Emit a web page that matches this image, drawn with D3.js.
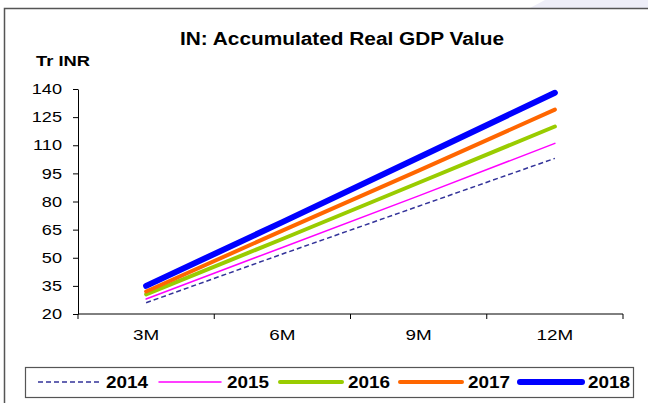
<!DOCTYPE html>
<html>
<head>
<meta charset="utf-8">
<script src="https://cdn.jsdelivr.net/npm/d3@7/dist/d3.min.js"></script>
<style>
  html, body { margin: 0; padding: 0; background: #fff; }
  svg { display: block; font-family: "Liberation Sans", Arial, sans-serif; }
</style>
</head>
<body>
<svg id="chart" width="648" height="403"></svg>
<script>
// Accumulated real GDP by quarter-to-date period, trillion INR
const periods = ["3M", "6M", "9M", "12M"];
const years = ["2014", "2015", "2016", "2017", "2018"];
const v2014 = [26, 52, 77.5, 103];
const v2015 = [28, 55.5, 83, 111];
const v2016 = [30.5, 60, 90, 120];
const v2017 = [32, 64.5, 96.5, 129];
const v2018 = [35, 69, 103.5, 138];
const yTicks = [20, 35, 50, 65, 80, 95, 110, 125, 140];

const seriesValues = [v2014, v2015, v2016, v2017, v2018];
const styles = [
  { color: "#333399", width: 1.5, dash: "5,3" },
  { color: "#ff00ff", width: 1.5, dash: null },
  { color: "#99cc00", width: 4, dash: null },
  { color: "#ff6600", width: 4, dash: null },
  { color: "#0000ff", width: 6, dash: null }
];

// widen glyphs horizontally by a fixed factor
function widen(sel, factor) {
  sel.each(function () {
    const w = this.getComputedTextLength();
    d3.select(this).attr("textLength", w * factor).attr("lengthAdjust", "spacingAndGlyphs");
  });
}

const svg = d3.select("#chart");

// decorative band in the top-right corner
svg.append("path")
  .attr("d", "M545,0 L648,0 L648,8 L530,8 Z")
  .attr("fill", "#eeeef8");

// outer frame (top and left edges)
svg.append("path")
  .attr("d", "M4.5,403 L4.5,8.5 L648,8.5")
  .attr("fill", "none")
  .attr("stroke", "#555")
  .attr("stroke-width", 1.5);

// title
svg.append("text")
  .attr("x", 342).attr("y", 45)
  .attr("text-anchor", "middle")
  .attr("font-size", 18).attr("font-weight", "bold")
  .attr("textLength", 324).attr("lengthAdjust", "spacingAndGlyphs")
  .text("IN: Accumulated Real GDP Value");

svg.append("text")
  .attr("x", 36).attr("y", 66)
  .attr("font-size", 15).attr("font-weight", "bold")
  .attr("textLength", 54).attr("lengthAdjust", "spacingAndGlyphs")
  .text("Tr INR");

const x = d3.scaleBand().domain(periods).range([78, 623]);
const y = d3.scaleLinear().domain([20, 140]).range([314, 89]);

// y axis
const yAxis = svg.append("g")
  .attr("transform", "translate(78,0)")
  .call(d3.axisLeft(y).tickValues(yTicks).tickSize(5).tickSizeOuter(0).tickPadding(11));
yAxis.attr("font-size", null).attr("font-family", null);
yAxis.selectAll("text")
  .attr("font-size", 14.5).attr("fill", "#000")
  .call(widen, 1.25);
yAxis.selectAll("line, path").attr("stroke", "#000");

// x axis with ticks at the band boundaries
const xAxisG = svg.append("g").attr("transform", "translate(0,314)");
xAxisG.append("line")
  .attr("x1", 78).attr("x2", 623)
  .attr("stroke", "#000");
const boundaries = periods.map(p => x(p)).concat([x(periods[periods.length - 1]) + x.bandwidth()]);
xAxisG.selectAll("line.tick")
  .data(boundaries)
  .join("line")
  .attr("class", "tick")
  .attr("x1", d => d).attr("x2", d => d)
  .attr("y1", 0).attr("y2", 5)
  .attr("stroke", "#000");
xAxisG.selectAll("text")
  .data(periods)
  .join("text")
  .attr("x", d => x(d) + x.bandwidth() / 2)
  .attr("y", 26)
  .attr("text-anchor", "middle")
  .attr("font-size", 14.5)
  .text(d => d)
  .call(widen, 1.3);

// series lines
const line = d3.line()
  .x((d, i) => x(periods[i]) + x.bandwidth() / 2)
  .y(d => y(d));

svg.append("g").selectAll("path")
  .data(seriesValues)
  .join("path")
  .attr("d", d => line(d))
  .attr("fill", "none")
  .attr("stroke", (d, i) => styles[i].color)
  .attr("stroke-width", (d, i) => styles[i].width)
  .attr("stroke-dasharray", (d, i) => styles[i].dash)
  .attr("stroke-linecap", (d, i) => styles[i].dash ? "butt" : "round");

// legend
const legend = svg.append("g");
legend.append("rect")
  .attr("x", 25.5).attr("y", 367.5)
  .attr("width", 608).attr("height", 30)
  .attr("fill", "#fff").attr("stroke", "#555").attr("stroke-width", 1.2);

const legendX = [38, 159, 280, 400, 520];
const items = legend.selectAll("g.item")
  .data(years)
  .join("g")
  .attr("class", "item")
  .attr("transform", (d, i) => `translate(${legendX[i]},382)`);
items.append("line")
  .attr("x1", 0).attr("x2", 62)
  .attr("stroke", (d, i) => styles[i].color)
  .attr("stroke-width", (d, i) => styles[i].width)
  .attr("stroke-dasharray", (d, i) => styles[i].dash)
  .attr("stroke-linecap", (d, i) => styles[i].dash ? "butt" : "round");
items.append("text")
  .attr("x", 68).attr("y", 6)
  .attr("font-size", 16).attr("font-weight", "bold")
  .attr("textLength", 42).attr("lengthAdjust", "spacingAndGlyphs")
  .text(d => d);
</script>
</body>
</html>
